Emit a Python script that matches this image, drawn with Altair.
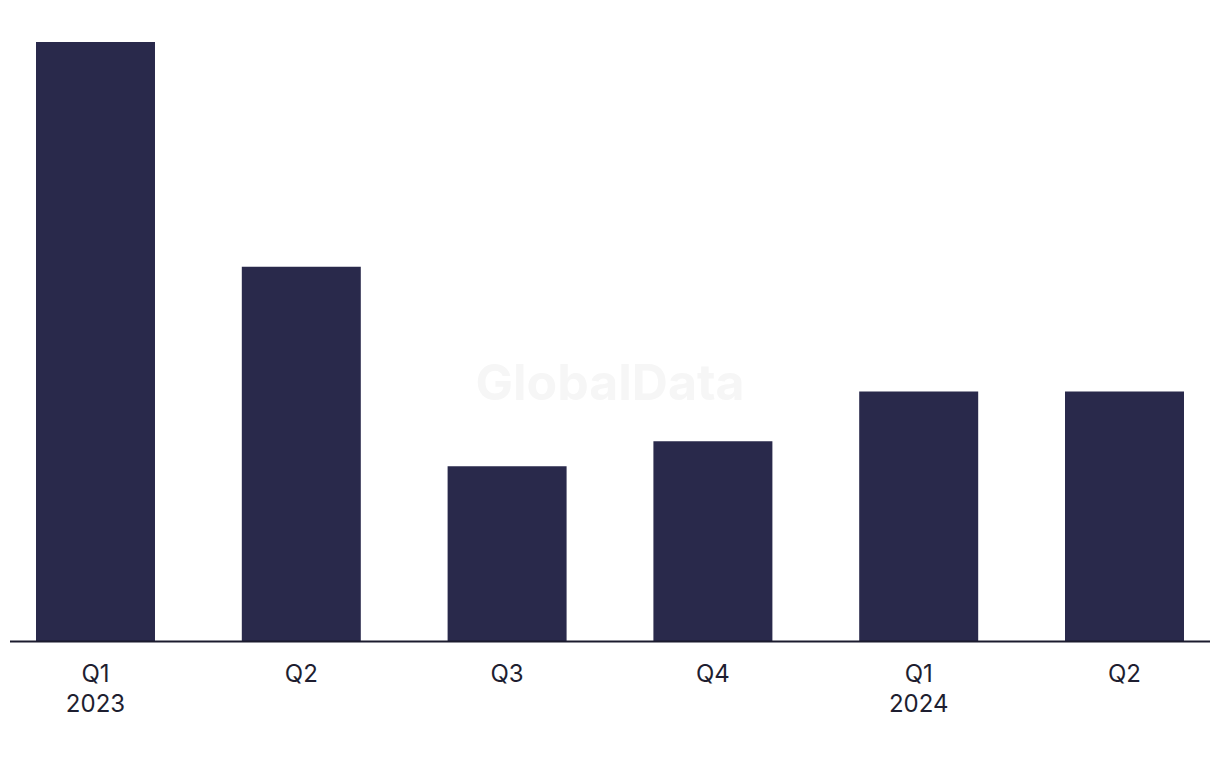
import altair as alt
import pandas as pd

periods = ["Q1 2023", "Q2 2023", "Q3 2023", "Q4 2023", "Q1 2024", "Q2 2024"]
labels = ["Q1\n2023", "Q2", "Q3", "Q4", "Q1\n2024", "Q2"]
values = [24, 15, 7, 8, 10, 10]

df = pd.DataFrame({"period": periods, "label": labels, "value": values})

W, H = 1148, 599
FONT = "Inter"
BAR = "#29294b"

x = alt.X("period:N", sort=periods,
          scale=alt.Scale(paddingInner=0.4218, paddingOuter=0),
          axis=None)

bars = alt.Chart(df).mark_bar(color=BAR).encode(
    x=x,
    y=alt.Y("value:Q", scale=alt.Scale(domain=[0, 24], nice=False), axis=None),
)

text = alt.Chart(df).mark_text(
    font=FONT, fontSize=24, color="#1e1e30", baseline="alphabetic",
    align="center", lineBreak="\n", lineHeight=30,
).encode(
    x=x,
    y=alt.value(H + 41),
    text="label:N",
)

rule = alt.Chart(df.head(1)).mark_rule(color="#1b1b2e", strokeWidth=2).encode(
    x=alt.value(-26), x2=alt.value(1174), y=alt.value(H + 0.5),
)

wm = alt.Chart(df.head(1)).mark_text(
    text="GlobalData", font=FONT, fontSize=50, fontWeight="bold",
    color="#f6f6f6", align="center", baseline="middle",
).encode(x=alt.value(574), y=alt.value(343))

chart = alt.layer(wm, bars, rule, text).properties(
    width=W, height=H,
    autosize=alt.AutoSizeParams(type="none"),
    padding={"left": 36, "top": 42, "right": 36, "bottom": 127},
).configure(background="white").configure_view(strokeWidth=0, stroke=None)

chart.save("out.html", embed_options={"renderer": "svg", "actions": False})
